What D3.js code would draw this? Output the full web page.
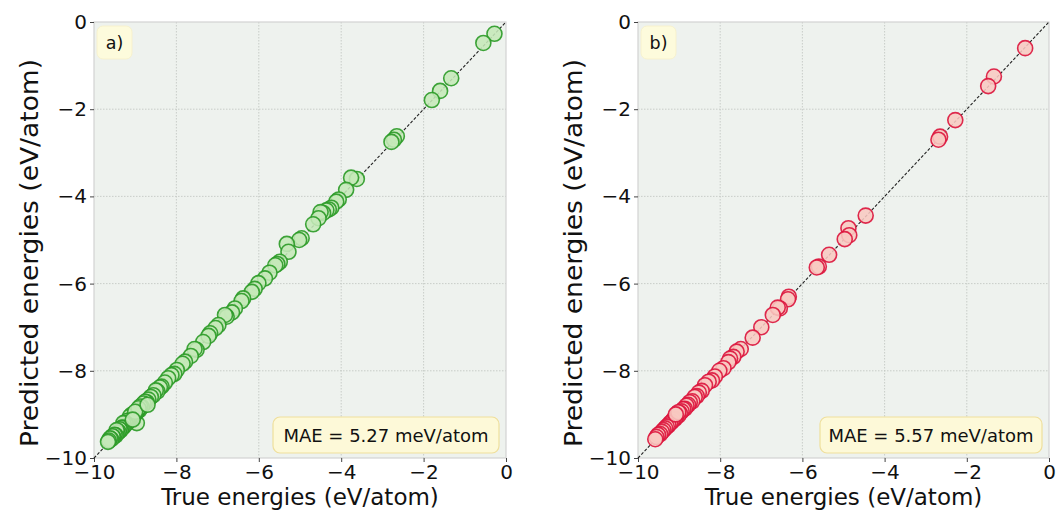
<!DOCTYPE html>
<html><head><meta charset="utf-8">
<script src="https://cdn.jsdelivr.net/npm/d3@7"></script>
<style>body{margin:0;background:#fff}svg{display:block}text{font-family:"DejaVu Sans",sans-serif}</style>
</head><body><svg id="c" width="1056" height="513"></svg>
<script>
const tickValues = [-10, -8, -6, -4, -2, 0];
const panelLabels = ["a)", "b)"];
const maeLabels = ["MAE = 5.27 meV/atom", "MAE = 5.57 meV/atom"];
const xTitle = "True energies (eV/atom)";
const yTitle = "Predicted energies (eV/atom)";

const trueA = [-0.28,-0.55,-1.33,-1.60,-1.80,-2.65,-2.72,-2.78,-3.62,-3.76,-3.88,-4.06,-4.12,-4.24,-4.30,-4.36,-4.44,-4.50,-4.55,-4.68,-4.96,-5.02,-5.32,-5.28,-5.49,-5.55,-5.60,-5.74,-5.85,-6.01,-6.10,-6.17,-6.38,-6.42,-6.58,-6.65,-6.78,-6.82,-6.98,-7.05,-7.18,-7.22,-7.35,-7.51,-7.56,-7.65,-7.79,-7.85,-7.99,-8.05,-8.12,-8.20,-8.28,-8.36,-8.40,-8.46,-8.50,-8.56,-8.62,-8.68,-8.72,-8.76,-8.80,-8.84,-8.88,-8.90,-8.94,-8.96,-8.98,-9.02,-9.05,-9.09,-9.10,-9.13,-9.15,-9.18,-9.20,-9.22,-9.25,-9.27,-9.29,-9.30,-9.33,-9.35,-9.38,-9.40,-9.43,-9.45,-9.47,-9.50,-9.53,-9.55,-9.58,-9.61,-9.64,-9.66,-8.92,-9.00,-9.06,-8.70];
const predA = [-0.27,-0.48,-1.29,-1.58,-1.79,-2.62,-2.70,-2.75,-3.60,-3.57,-3.85,-4.07,-4.12,-4.26,-4.30,-4.32,-4.38,-4.36,-4.50,-4.64,-4.96,-5.00,-5.09,-5.27,-5.50,-5.55,-5.58,-5.75,-5.88,-5.99,-6.12,-6.19,-6.34,-6.40,-6.57,-6.66,-6.76,-6.72,-6.95,-7.02,-7.14,-7.20,-7.34,-7.52,-7.50,-7.66,-7.79,-7.84,-7.98,-8.07,-8.10,-8.17,-8.27,-8.36,-8.38,-8.47,-8.45,-8.56,-8.60,-8.66,-8.72,-8.71,-8.75,-8.83,-8.82,-8.90,-8.92,-9.20,-8.97,-9.00,-9.04,-9.01,-9.10,-9.05,-9.14,-9.17,-9.15,-9.22,-9.20,-9.27,-9.20,-9.30,-9.31,-9.36,-9.34,-9.40,-9.42,-9.36,-9.48,-9.47,-9.52,-9.50,-9.57,-9.55,-9.60,-9.63,-8.86,-8.94,-9.12,-8.78];

const trueB = [-0.58,-1.34,-1.48,-2.28,-2.65,-2.69,-4.46,-4.88,-4.86,-4.97,-5.35,-5.60,-5.65,-6.33,-6.35,-6.55,-6.60,-6.72,-7.00,-7.21,-7.50,-7.60,-7.68,-7.76,-7.80,-7.92,-8.02,-8.13,-8.20,-8.28,-8.37,-8.45,-8.52,-8.57,-8.62,-8.68,-8.74,-8.78,-8.82,-8.86,-8.90,-8.94,-8.98,-9.02,-9.06,-9.10,-9.14,-9.18,-9.22,-9.26,-9.30,-9.34,-9.38,-9.42,-9.46,-9.51,-9.55,-9.58,-9.02,-9.08];
const predB = [-0.60,-1.25,-1.47,-2.25,-2.63,-2.70,-4.44,-4.73,-4.89,-4.98,-5.34,-5.61,-5.63,-6.30,-6.36,-6.57,-6.55,-6.72,-7.00,-7.24,-7.50,-7.56,-7.68,-7.72,-7.80,-7.94,-8.00,-8.13,-8.22,-8.25,-8.33,-8.46,-8.50,-8.58,-8.60,-8.70,-8.72,-8.78,-8.80,-8.87,-8.88,-8.93,-8.97,-9.03,-9.04,-9.10,-9.12,-9.17,-9.20,-9.25,-9.28,-9.32,-9.36,-9.40,-9.45,-9.47,-9.52,-9.57,-8.95,-9.00];

const panels = [
  {x0: 94, x1: 506, t: trueA, p: predA, fill: "#c5e8b8", stroke: "#2a9a26", mae: maeLabels[0], lab: panelLabels[0], maeW: 226},
  {x0: 638, x1: 1049, t: trueB, p: predB, fill: "#f8c9c2", stroke: "#dc143c", mae: maeLabels[1], lab: panelLabels[1], maeW: 222}
];
const y0 = 22, y1 = 458;
const svg = d3.select("#c");

panels.forEach(P => {
  const x = d3.scaleLinear().domain([-10, 0]).range([P.x0, P.x1]);
  const y = d3.scaleLinear().domain([-10, 0]).range([y1, y0]);
  const g = svg.append("g");
  g.append("rect").attr("x", P.x0).attr("y", y0).attr("width", P.x1 - P.x0).attr("height", y1 - y0)
    .attr("fill", "#eef2ee");
  g.selectAll(".gx").data(tickValues.slice(1, -1)).join("line")
    .attr("x1", d => x(d)).attr("x2", d => x(d)).attr("y1", y0).attr("y2", y1)
    .attr("stroke", "#c4c8c4").attr("stroke-width", 0.9).attr("stroke-dasharray", "1.5,1.5");
  g.selectAll(".gy").data(tickValues.slice(1, -1)).join("line")
    .attr("y1", d => y(d)).attr("y2", d => y(d)).attr("x1", P.x0).attr("x2", P.x1)
    .attr("stroke", "#c4c8c4").attr("stroke-width", 0.9).attr("stroke-dasharray", "1.5,1.5");
  g.append("rect").attr("x", P.x0).attr("y", y0).attr("width", P.x1 - P.x0).attr("height", y1 - y0)
    .attr("fill", "none").attr("stroke", "#d2d2d2").attr("stroke-width", 1.2);
  const minus = d => d3.format("")(d).replace("-", "\u2212");
  const xa = g.append("g").attr("transform", `translate(0,${y1})`)
    .call(d3.axisBottom(x).tickValues(tickValues).tickFormat(minus).tickSize(4).tickPadding(3));
  const ya = g.append("g").attr("transform", `translate(${P.x0},0)`)
    .call(d3.axisLeft(y).tickValues(tickValues).tickFormat(minus).tickSize(4).tickPadding(3));
  [xa, ya].forEach(a => {
    a.select(".domain").remove();
    a.selectAll(".tick line").attr("stroke", "#444").attr("stroke-width", 1);
    a.selectAll(".tick text").attr("font-size", 20).attr("fill", "#111").attr("font-family", "DejaVu Sans");
  });
  g.append("line").attr("x1", x(-10)).attr("y1", y(-10)).attr("x2", x(0)).attr("y2", y(0))
    .attr("stroke", "#222").attr("stroke-width", 1.1).attr("stroke-dasharray", "3,1.8");
  const pts = P.t.map((v, i) => [v, P.p[i]]);
  g.append("g").selectAll("circle").data(pts).join("circle")
    .attr("cx", d => x(d[0])).attr("cy", d => y(d[1])).attr("r", 7.5)
    .attr("fill", P.fill).attr("fill-opacity", 0.88)
    .attr("stroke", P.stroke).attr("stroke-opacity", 0.9).attr("stroke-width", 1.6);
  g.append("rect").attr("x", P.x0 + 3).attr("y", y0 + 4).attr("width", 35).attr("height", 33).attr("rx", 6)
    .attr("fill", "#fdfbdc").attr("stroke", "#f6f0c8").attr("stroke-width", 0.8);
  g.append("text").attr("x", P.x0 + 20.5).attr("y", y0 + 27).attr("text-anchor", "middle")
    .attr("font-size", 17.5).attr("fill", "#111").text(P.lab);
  const bx = P.x1 - 7 - P.maeW;
  g.append("rect").attr("x", bx).attr("y", 417).attr("width", P.maeW).attr("height", 36).attr("rx", 7)
    .attr("fill", "#fdf9d8").attr("stroke", "#efdf9c").attr("stroke-width", 1.2);
  g.append("text").attr("x", bx + P.maeW / 2).attr("y", 441.5).attr("text-anchor", "middle")
    .attr("font-size", 18).attr("fill", "#111").text(P.mae);
  g.append("text").attr("x", (P.x0 + P.x1) / 2).attr("y", 505).attr("text-anchor", "middle")
    .attr("font-size", 23).attr("fill", "#111").text(xTitle);
  g.append("text").attr("transform", `translate(${P.x0 - 56},${(y0 + y1) / 2 + 13}) rotate(-90)`)
    .attr("text-anchor", "middle").attr("font-size", 24).attr("fill", "#111")
    .attr("textLength", 388).attr("lengthAdjust", "spacingAndGlyphs").text(yTitle);
});
</script></body></html>
